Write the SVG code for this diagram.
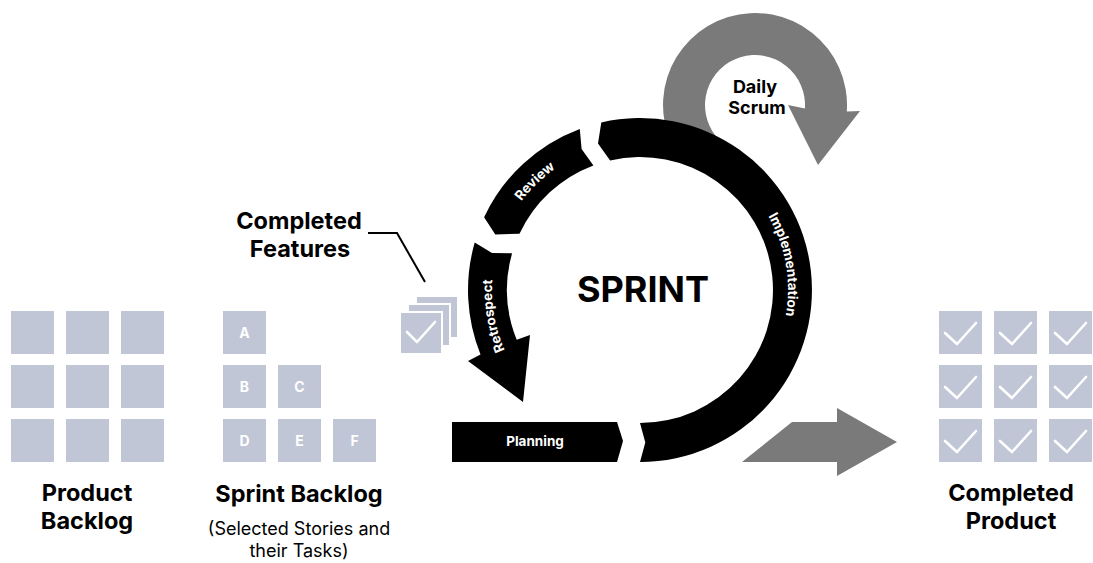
<svg xmlns="http://www.w3.org/2000/svg" width="1093" height="563" viewBox="0 0 1093 563">
  <style>
    text { font-family: Inter, "Liberation Sans", sans-serif; }
    .card { fill: #c0c6d6; }
    .title { font-size: 23.5px; font-weight: 700; fill: #000; text-anchor: middle; }
    .sub { font-size: 18px; font-weight: 400; fill: #000; text-anchor: middle; }
    .letter { font-size: 14px; font-weight: 700; fill: #fff; text-anchor: middle; }
    .tick { fill: none; stroke: #fff; stroke-width: 2.6; stroke-linecap: round; stroke-linejoin: round; }
    .band { fill: #000; }
    .bandlabel { font-size: 13.5px; font-weight: 700; fill: #fff; text-anchor: middle; }
    .grey { fill: #7a7a7a; }
    .scrum { font-size: 18px; font-weight: 700; fill: #000; text-anchor: middle; }
  </style>
  <defs>
    <path id="tick" class="tick" d="M 6 22 L 18 33 L 37 12"/>
    <path id="arcImpl" d="M 714 161.8 A 148 148 0 0 1 753.4 385.1"/>
    <path id="arcReview" d="M 497.7 249.2 A 148 148 0 0 1 604.2 146.4"/>
    <path id="arcRetro" d="M 526.6 385.1 A 148 148 0 0 1 500.9 239.4"/>
  </defs>
  <rect width="1093" height="563" fill="#fff"/>

  <!-- Product backlog: 3x3 grid of story cards -->
  <g id="product-backlog">
    <rect class="card" x="11" y="311" width="43" height="43"/>
    <rect class="card" x="66" y="311" width="43" height="43"/>
    <rect class="card" x="121" y="311" width="43" height="43"/>
    <rect class="card" x="11" y="365" width="43" height="43"/>
    <rect class="card" x="66" y="365" width="43" height="43"/>
    <rect class="card" x="121" y="365" width="43" height="43"/>
    <rect class="card" x="11" y="419" width="43" height="43"/>
    <rect class="card" x="66" y="419" width="43" height="43"/>
    <rect class="card" x="121" y="419" width="43" height="43"/>
    <text class="title" x="87" y="501">Product</text>
    <text class="title" x="87" y="529">Backlog</text>
  </g>

  <!-- Sprint backlog: selected stories A-F -->
  <g id="sprint-backlog">
    <rect class="card" x="223" y="311" width="43" height="43"/>
    <rect class="card" x="223" y="365" width="43" height="43"/>
    <rect class="card" x="278" y="365" width="43" height="43"/>
    <rect class="card" x="223" y="419" width="43" height="43"/>
    <rect class="card" x="278" y="419" width="43" height="43"/>
    <rect class="card" x="333" y="419" width="43" height="43"/>
    <text class="letter" x="244.5" y="337.5">A</text>
    <text class="letter" x="244.5" y="391.5">B</text>
    <text class="letter" x="299.5" y="391.5">C</text>
    <text class="letter" x="244.5" y="445.5">D</text>
    <text class="letter" x="299.5" y="445.5">E</text>
    <text class="letter" x="354.5" y="445.5">F</text>
    <text class="title" x="299" y="502">Sprint Backlog</text>
    <text class="sub" x="299" y="535">(Selected Stories and</text>
    <text class="sub" x="299" y="557">their Tasks)</text>
  </g>

  <!-- Completed features: stacked ticked cards with callout -->
  <g id="completed-features">
    <rect class="card" x="416" y="296" width="42" height="42" stroke="#fff" stroke-width="2"/>
    <rect class="card" x="408" y="304" width="42" height="42" stroke="#fff" stroke-width="2"/>
    <rect class="card" x="400" y="312" width="42" height="42" stroke="#fff" stroke-width="2"/>
    <path class="tick" d="M 407 332 L 417 342 L 435 322"/>
    <text class="title" x="299" y="229">Completed</text>
    <text class="title" x="300" y="257">Features</text>
  </g>

  <!-- Daily scrum loop -->
  <g id="daily-scrum">
    <path class="grey" d="M 682.5 161.6 A 92 92 0 1 1 846.8 111.4 L 860 111 L 818 165 L 788 105 L 804.9 108.5 A 50 50 0 1 0 715.6 135.8 Z"/>
    <text class="scrum" x="755" y="93">Daily</text>
    <text class="scrum" x="757" y="114">Scrum</text>
  </g>

  <!-- Sprint cycle -->
  <g id="sprint">
    <text x="643" y="302" style="font-size:36px;font-weight:700;text-anchor:middle">SPRINT</text>
  </g>

  <g id="planning">
    <path class="band" d="M 452 422 L 617 422 L 623 441 L 617 462 L 452 462 Z"/>
    <text class="bandlabel" x="535" y="446">Planning</text>
  </g>

  <g id="implementation">
    <path class="band" d="M 640 462 A 172 172 0 1 0 601.3 122.4 L 598 143.4 L 610.1 160.4 A 133 133 0 1 1 640 423 L 645.3 442.4 Z"/>
    <text class="bandlabel"><textPath href="#arcImpl" startOffset="50%">Implementation</textPath></text>
  </g>

  <g id="review">
    <path class="band" d="M 579.8 128.9 A 172 172 0 0 0 484.1 217.3 L 495.3 234.4 L 519.5 233.8 A 133 133 0 0 1 593.4 165.4 L 581.6 149.1 Z"/>
    <text class="bandlabel"><textPath href="#arcReview" startOffset="50%">Review</textPath></text>
  </g>

  <g id="retrospect">
    <path class="band" d="M 474.7 242.6 A 172 172 0 0 0 480.5 354.4 L 468 361 L 523 402 L 530 335 L 516.7 339.8 A 133 133 0 0 1 512.1 253.3 L 492 253.1 Z"/>
    <text class="bandlabel"><textPath href="#arcRetro" startOffset="50%">Retrospect</textPath></text>
  </g>

  <!-- Completed product: 3x3 grid of ticked cards -->
  <g id="completed-product">
    <rect class="card" x="939" y="311" width="43" height="43"/>
    <rect class="card" x="994" y="311" width="43" height="43"/>
    <rect class="card" x="1049" y="311" width="43" height="43"/>
    <rect class="card" x="939" y="365" width="43" height="43"/>
    <rect class="card" x="994" y="365" width="43" height="43"/>
    <rect class="card" x="1049" y="365" width="43" height="43"/>
    <rect class="card" x="939" y="419" width="43" height="43"/>
    <rect class="card" x="994" y="419" width="43" height="43"/>
    <rect class="card" x="1049" y="419" width="43" height="43"/>
    <use href="#tick" x="939" y="311"/>
    <use href="#tick" x="994" y="311"/>
    <use href="#tick" x="1049" y="311"/>
    <use href="#tick" x="939" y="365"/>
    <use href="#tick" x="994" y="365"/>
    <use href="#tick" x="1049" y="365"/>
    <use href="#tick" x="939" y="419"/>
    <use href="#tick" x="994" y="419"/>
    <use href="#tick" x="1049" y="419"/>
    <text class="title" x="1011" y="501">Completed</text>
    <text class="title" x="1011" y="529">Product</text>
  </g>

  <!-- Connectors -->
  <g id="connectors">
    <path d="M 368 233 L 397 233 L 425 282" fill="none" stroke="#000" stroke-width="2"/>
    <path class="grey" d="M 742 462 L 792 422 L 837 422 L 837 408 L 897 442 L 837 476 L 837 462 Z"/>
  </g>
</svg>
